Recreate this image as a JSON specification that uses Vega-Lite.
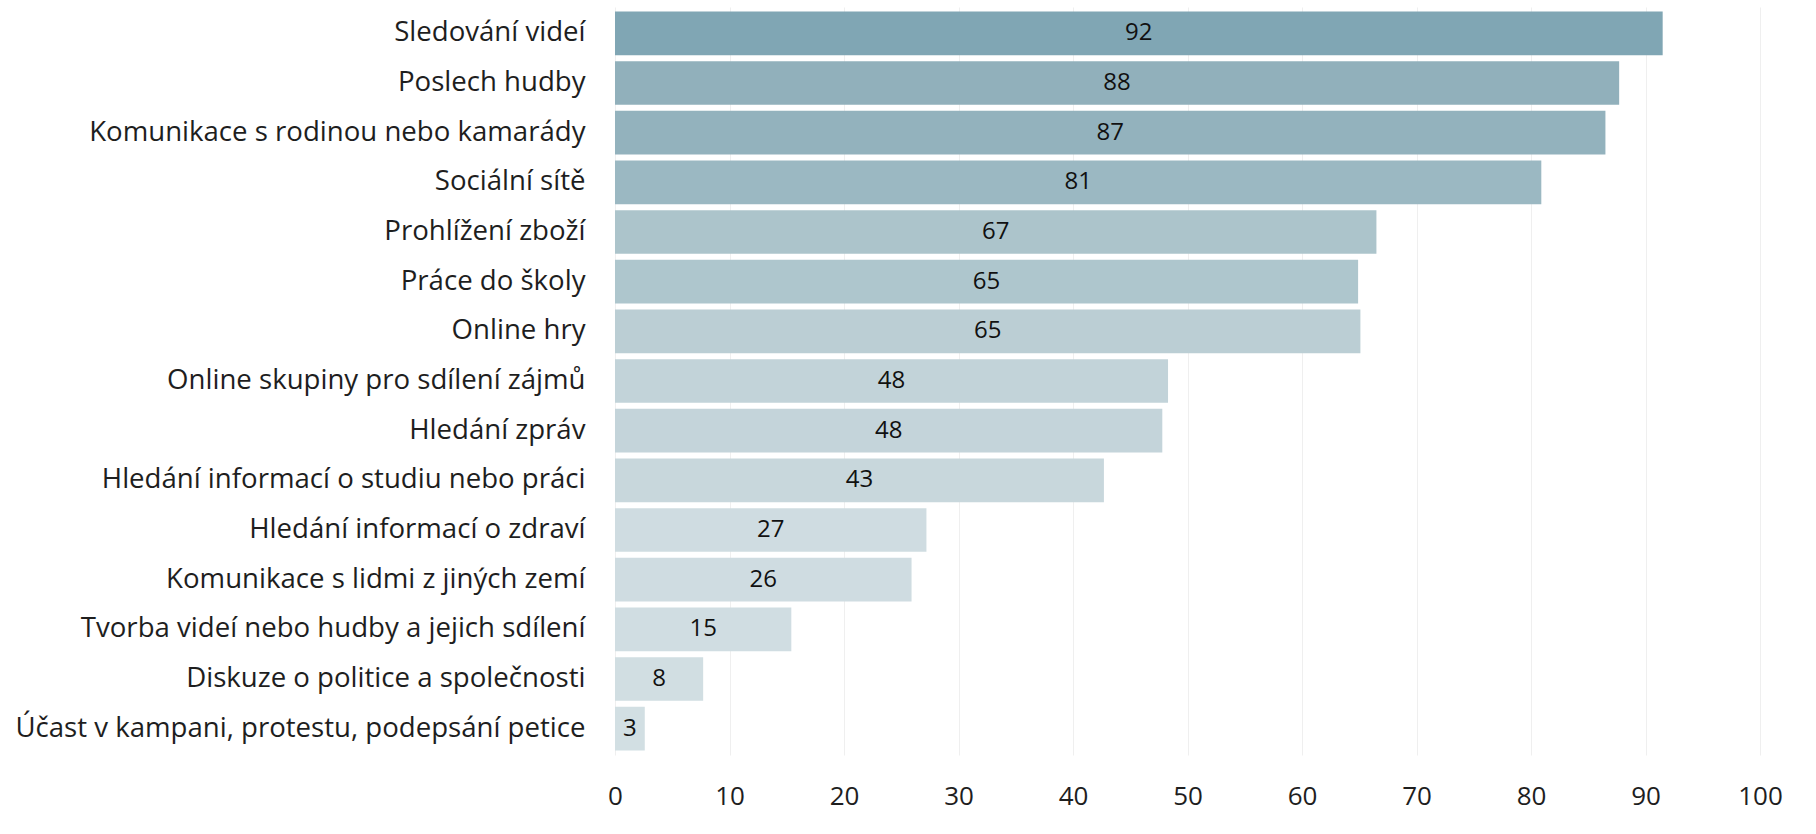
{
  "$schema": "https://vega.github.io/schema/vega-lite/v6.json",
  "autosize": {"type": "none"},
  "width": 1145,
  "height": 748,
  "padding": {"left": 615, "top": 7, "right": 56, "bottom": 79},
  "background": "white",
  "config": {
    "view": {"stroke": null},
    "font": "Open Sans"
  },
  "data": {
    "values": [
      {"activity": "Sledování videí", "value": 91.5},
      {"activity": "Poslech hudby", "value": 87.7},
      {"activity": "Komunikace s rodinou nebo kamarády", "value": 86.5},
      {"activity": "Sociální sítě", "value": 80.9},
      {"activity": "Prohlížení zboží", "value": 66.5},
      {"activity": "Práce do školy", "value": 64.9},
      {"activity": "Online hry", "value": 65.1},
      {"activity": "Online skupiny pro sdílení zájmů", "value": 48.3},
      {"activity": "Hledání zpráv", "value": 47.8},
      {"activity": "Hledání informací o studiu nebo práci", "value": 42.7},
      {"activity": "Hledání informací o zdraví", "value": 27.2},
      {"activity": "Komunikace s lidmi z jiných zemí", "value": 25.9},
      {"activity": "Tvorba videí nebo hudby a jejich sdílení", "value": 15.4},
      {"activity": "Diskuze o politice a společnosti", "value": 7.7},
      {"activity": "Účast v kampani, protestu, podepsání petice", "value": 2.6}
    ]
  },
  "encoding": {
    "y": {
      "field": "activity",
      "type": "nominal",
      "sort": null,
      "scale": {"paddingInner": 0.12, "paddingOuter": 0.09},
      "axis": {
        "title": null,
        "ticks": false,
        "domain": false,
        "grid": false,
        "labelPadding": 30,
        "labelFontSize": 27.6,
        "labelColor": "#1e1e1e",
        "labelLimit": 700
      }
    }
  },
  "layer": [
    {
      "mark": {"type": "bar"},
      "encoding": {
        "x": {
          "field": "value",
          "type": "quantitative",
          "scale": {"domain": [0, 100], "nice": false},
          "axis": {
            "title": null,
            "values": [0, 10, 20, 30, 40, 50, 60, 70, 80, 90, 100],
            "ticks": false,
            "domain": false,
            "grid": true,
            "gridColor": "#efefef",
            "gridWidth": 1,
            "labelFlush": false,
            "labelPadding": 28,
            "labelFontSize": 26,
            "labelColor": "#1e1e1e"
          }
        },
        "color": {
          "field": "activity",
          "type": "nominal",
          "legend": null,
          "scale": {
            "domain": [
              "Sledování videí", "Poslech hudby", "Komunikace s rodinou nebo kamarády", "Sociální sítě",
              "Prohlížení zboží", "Práce do školy", "Online hry", "Online skupiny pro sdílení zájmů",
              "Hledání zpráv", "Hledání informací o studiu nebo práci", "Hledání informací o zdraví",
              "Komunikace s lidmi z jiných zemí", "Tvorba videí nebo hudby a jejich sdílení",
              "Diskuze o politice a společnosti", "Účast v kampani, protestu, podepsání petice"
            ],
            "range": [
              "#80a6b4", "#91b0bb", "#93b2bd", "#9bb8c2", "#acc4cb", "#aec6cd", "#bbced4",
              "#c2d3d9", "#c4d4da", "#c8d7dc", "#cfdce1", "#cfdce1", "#d0dde2", "#d1dee2", "#d2dfe3"
            ]
          }
        }
      }
    },
    {
      "transform": [{"calculate": "datum.value / 2", "as": "mid"}],
      "mark": {"type": "text", "fontSize": 24, "color": "#111111", "align": "center", "baseline": "middle"},
      "encoding": {
        "x": {"field": "mid", "type": "quantitative"},
        "text": {"field": "value", "type": "quantitative", "format": ".0f"}
      }
    }
  ]
}
